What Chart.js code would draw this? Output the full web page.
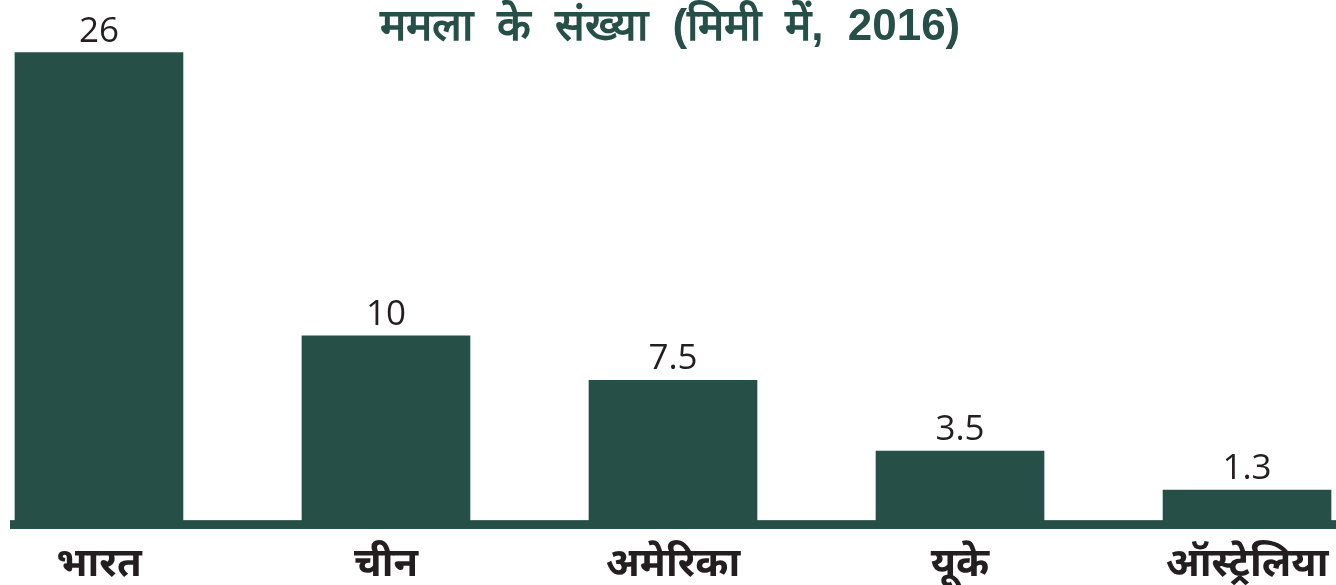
<!DOCTYPE html>
<html>
<head>
<meta charset="utf-8">
<script src="https://cdn.jsdelivr.net/npm/chart.js@4"></script>
<style>
  html, body { margin: 0; padding: 0; background: #fff; }
  #wrap { width: 1336px; height: 585px; }
</style>
</head>
<body>
<div id="wrap"><canvas id="casesChart"></canvas></div>
<script>
// chart data
const countries = ['भारत', 'चीन', 'अमेरिका', 'यूके', 'ऑस्ट्रेलिया'];
const cases = [26, 10, 7.5, 3.5, 1.3];
const valueLabels = ['26', '10', '7.5', '3.5', '1.3'];
const chartTitle = 'ममला के संख्या (मिमी में, 2016)';

const GREEN = '#264f47';
const TEXT = '#231f20';
const Y_MIN = -0.9;      // bars run down into the base strip
const STRIP_TOP = -0.4;  // top of the dark strip under the bars

// dark strip along the bottom of the plot
const baseStrip = {
  id: 'baseStrip',
  beforeDatasetsDraw(chart) {
    const { ctx, chartArea, scales } = chart;
    const top = scales.y.getPixelForValue(STRIP_TOP);
    ctx.save();
    ctx.fillStyle = GREEN;
    ctx.fillRect(chartArea.left, top, chartArea.right - chartArea.left, chartArea.bottom - top);
    ctx.restore();
  }
};

// title with a bit of extra word spacing
const titleText = {
  id: 'titleText',
  afterDraw(chart) {
    const { ctx } = chart;
    ctx.save();
    ctx.font = 'bold 44px "Liberation Sans", sans-serif';
    if ('wordSpacing' in ctx) ctx.wordSpacing = '12px';
    ctx.fillStyle = GREEN;
    ctx.textAlign = 'center';
    ctx.textBaseline = 'alphabetic';
    ctx.fillText(chartTitle, 670, 40);
    ctx.restore();
  }
};

// value labels above the bars
const valueText = {
  id: 'valueText',
  afterDatasetsDraw(chart) {
    const { ctx } = chart;
    const meta = chart.getDatasetMeta(0);
    ctx.save();
    ctx.font = '35px "Open Sans", sans-serif';
    ctx.fillStyle = TEXT;
    ctx.textAlign = 'center';
    ctx.textBaseline = 'alphabetic';
    meta.data.forEach((bar, i) => {
      ctx.fillText(valueLabels[i], bar.x, bar.y - 11);
    });
    ctx.restore();
  }
};

const ctx = document.getElementById('casesChart').getContext('2d');
new Chart(ctx, {
  type: 'bar',
  data: {
    datasets: [{
      data: cases.map((v, i) => ({ x: i, y: v })),
      backgroundColor: GREEN,
      borderWidth: 0,
      barThickness: 168,
      base: Y_MIN
    }]
  },
  options: {
    responsive: true,
    maintainAspectRatio: false,
    animation: false,
    layout: { padding: { left: 10, right: 0, top: 49, bottom: 0 } },
    plugins: {
      legend: { display: false },
      tooltip: { enabled: false },
      title: { display: false }
    },
    scales: {
      x: {
        type: 'linear',
        min: -0.31,
        max: 4.31,
        offset: false,
        grid: { display: false },
        border: { display: false },
        afterBuildTicks: scale => {
          scale.ticks = countries.map((_, i) => ({ value: i }));
        },
        afterFit: scale => { scale.height = 56; },
        ticks: {
          autoSkip: false,
          maxRotation: 0,
          padding: 4,
          color: TEXT,
          font: { family: 'Noto Sans, sans-serif', size: 40, weight: 'bold' },
          callback: value => countries[value] ?? ''
        }
      },
      y: {
        display: false,
        min: Y_MIN,
        max: 26.2
      }
    }
  },
  plugins: [baseStrip, valueText, titleText]
});
</script>
</body>
</html>
